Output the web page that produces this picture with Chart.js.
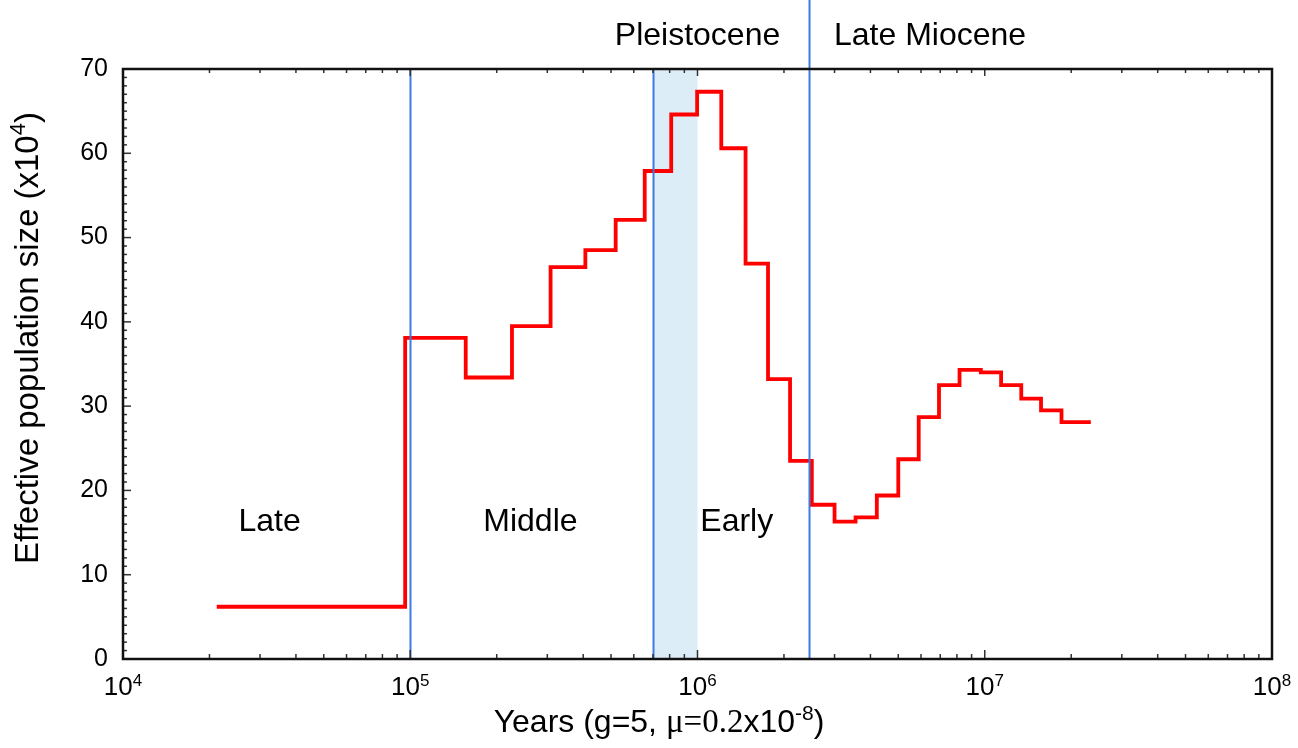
<!DOCTYPE html>
<html>
<head>
<meta charset="utf-8">
<script src="https://cdn.jsdelivr.net/npm/chart.js@4.4.1/dist/chart.umd.min.js"></script>
<style>
  html, body { margin: 0; padding: 0; background: #fff; }
  #wrap { width: 1298px; height: 748px; }
</style>
</head>
<body>
<div id="wrap"><canvas id="myChart" width="1298" height="748"></canvas></div>
<script>
// step start times (years) and Ne (x10^4) for each step
const years = [2.12e4, 9.6e4, 1.56e5, 2.26e5, 3.08e5, 4.07e5, 5.19e5, 6.55e5, 8.1e5, 9.97e5,
  1.21e6, 1.47e6, 1.76e6, 2.1e6, 2.5e6, 3.0e6, 3.55e6, 4.21e6, 5.0e6, 5.89e6, 6.93e6,
  8.17e6, 9.69e6, 1.14e7, 1.34e7, 1.57e7, 1.85e7, 2.34e7];
const ne = [6.2, 38.1, 33.4, 39.5, 46.5, 48.5, 52.1, 57.9, 64.6, 67.3,
  60.6, 46.9, 33.2, 23.5, 18.3, 16.3, 16.8, 19.4, 23.7, 28.7, 32.5,
  34.3, 34.0, 32.5, 30.9, 29.5, 28.1, 28.1];

const yTicks = [0, 10, 20, 30, 40, 50, 60, 70];
const xTicks = [1e4, 1e5, 1e6, 1e7, 1e8];
const xTickExp = ['4', '5', '6', '7', '8'];

// epoch boundaries (years)
const boundaryLines = [1e5, 7e5, 2.45e6];
const tallLine = 2.45e6;
const shadeBand = [7e5, 1e6];
const epochTop = [
  { text: 'Pleistocene', x: 1.0e6 },
  { text: 'Late Miocene', x: 6.45e6 }
];
const stageLabels = [
  { text: 'Late', x: 3.24e4, y: 16.3 },
  { text: 'Middle', x: 2.62e5, y: 16.3 },
  { text: 'Early', x: 1.37e6, y: 16.3 }
];

const points = years.map((x, i) => ({ x: x, y: ne[i] }));
const SANS = '"Liberation Sans", Arial, sans-serif';
const SERIF = '"Liberation Serif", "Times New Roman", serif';

// draw a sequence of [text, font, dy] pieces centred on cx
function drawRuns(ctx, runs, cx, cy) {
  let w = 0;
  runs.forEach(r => { ctx.font = r[1]; w += ctx.measureText(r[0]).width; });
  let px = cx - w / 2;
  ctx.textAlign = 'left';
  ctx.textBaseline = 'alphabetic';
  runs.forEach(r => {
    ctx.font = r[1];
    ctx.fillText(r[0], px, cy + (r[2] || 0));
    px += ctx.measureText(r[0]).width;
  });
}

const decorations = {
  id: 'decorations',
  beforeDatasetsDraw(chart) {
    const { ctx, chartArea: a, scales: { x } } = chart;
    ctx.save();
    ctx.fillStyle = '#ddedf8';
    const x0 = x.getPixelForValue(shadeBand[0]);
    const x1 = x.getPixelForValue(shadeBand[1]);
    ctx.fillRect(x0, a.top, x1 - x0, a.bottom - a.top);
    ctx.restore();
  },
  afterDatasetsDraw(chart) {
    const { ctx, chartArea: a, scales: { x, y } } = chart;
    ctx.save();
    // boundary lines
    ctx.strokeStyle = '#3c7be0';
    ctx.lineWidth = 2;
    boundaryLines.forEach(v => {
      const px = Math.round(x.getPixelForValue(v)) + 0.5;
      ctx.beginPath();
      ctx.moveTo(px, v === tallLine ? 0 : a.top);
      ctx.lineTo(px, a.bottom);
      ctx.stroke();
    });
    // tick marks (left, bottom, top)
    ctx.strokeStyle = '#333';
    ctx.lineWidth = 1.5;
    for (let v = 0; v <= 70; v++) {
      const py = y.getPixelForValue(v);
      const len = v % 10 === 0 ? 8 : 4;
      ctx.beginPath();
      ctx.moveTo(a.left, py); ctx.lineTo(a.left + len, py);
      ctx.stroke();
    }
    for (let d = 4; d < 8; d++) {
      for (let m = 1; m <= 9; m++) {
        const px = x.getPixelForValue(m * Math.pow(10, d));
        ctx.beginPath();
        ctx.moveTo(px, a.bottom); ctx.lineTo(px, a.bottom - (m === 1 ? 9 : 5));
        ctx.moveTo(px, a.top); ctx.lineTo(px, a.top + (m === 1 ? 7 : 4));
        ctx.stroke();
      }
    }
    // frame
    ctx.strokeStyle = '#111';
    ctx.lineWidth = 2.5;
    ctx.strokeRect(a.left, a.top, a.right - a.left, a.bottom - a.top);

    ctx.fillStyle = '#000';
    // x tick labels 10^n
    xTicks.forEach((v, i) => {
      drawRuns(ctx, [['10', '26px ' + SANS], [xTickExp[i], '17px ' + SANS, -9]],
        x.getPixelForValue(v), a.bottom + 36);
    });
    // x axis title
    drawRuns(ctx, [
      ['Years (g=5, ', '32px ' + SANS],
      ['μ=0.2', '33px ' + SERIF],
      ['x10', '32px ' + SANS],
      ['-8', '21px ' + SANS, -12],
      [')', '32px ' + SANS]
    ], 659, 732);
    // y axis title
    ctx.save();
    ctx.translate(38, 338);
    ctx.rotate(-Math.PI / 2);
    drawRuns(ctx, [
      ['Effective population size (x10', '33px ' + SANS],
      ['4', '22px ' + SANS, -13],
      [')', '33px ' + SANS]
    ], 0, 0);
    ctx.restore();

    // epoch labels
    ctx.font = '32px ' + SANS;
    ctx.textAlign = 'center';
    ctx.textBaseline = 'middle';
    epochTop.forEach(t => {
      ctx.fillText(t.text, x.getPixelForValue(t.x), 36);
    });
    stageLabels.forEach(t => {
      ctx.fillText(t.text, x.getPixelForValue(t.x), y.getPixelForValue(t.y) + 1);
    });
    ctx.restore();
  }
};

const ctx = document.getElementById('myChart');
new Chart(ctx.getContext('2d'), {
  type: 'line',
  data: {
    datasets: [{
      label: 'Ne',
      data: points,
      stepped: 'before',
      borderColor: '#ff0000',
      borderWidth: 3.8,
      pointRadius: 0,
      fill: false,
      tension: 0
    }]
  },
  options: {
    responsive: false,
    animation: false,
    layout: { padding: { top: 69, right: 26, left: 0, bottom: 0 } },
    plugins: {
      legend: { display: false },
      tooltip: { enabled: false }
    },
    scales: {
      x: {
        type: 'logarithmic',
        min: 1e4,
        max: 1e8,
        border: { display: false },
        grid: { display: false, drawTicks: false },
        afterBuildTicks(scale) {
          scale.ticks = xTicks.map(v => ({ value: v }));
        },
        ticks: { display: false },
        afterFit(scale) { scale.height = 89; }
      },
      y: {
        min: 0,
        max: 70,
        border: { display: false },
        grid: { display: false, drawTicks: false },
        afterBuildTicks(scale) {
          scale.ticks = yTicks.map(v => ({ value: v }));
        },
        ticks: {
          padding: 15,
          color: '#000',
          font: { size: 25, family: SANS }
        },
        afterFit(scale) { scale.width = 123; }
      }
    }
  },
  plugins: [decorations]
});
</script>
</body>
</html>
